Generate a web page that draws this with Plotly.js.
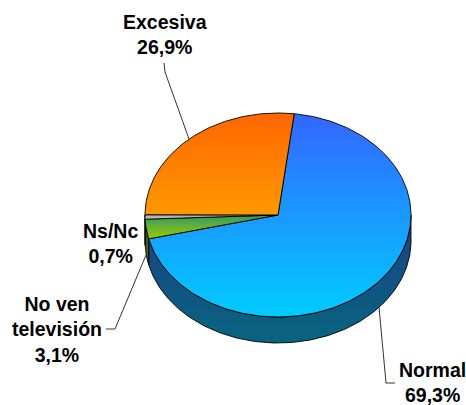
<!DOCTYPE html>
<html><head><meta charset="utf-8">
<script src="https://cdn.plot.ly/plotly-3.0.1.min.js"></script>
<style>html,body{margin:0;padding:0;background:#fff}#c{width:466px;height:405px}</style>
</head><body><div id="c"></div>
<script>
const categories = ["Normal", "No ven televisión", "Ns/Nc", "Excesiva"];
const shares = [69.3, 3.1, 0.7, 26.9];
const labelTexts = ["Normal<br>69,3%", "No ven<br>televisión<br>3,1%", "Ns/Nc<br>0,7%", "Excesiva<br>26,9%"];

// pie geometry, in pixels of the 466x405 frame
const cx = 278, cy = 215, rx = 133, ry = 102, depth = 26, startDeg = 7;
const topColors = [["#3366ff","#00ccff"],["#339966","#99cc00"],["#a6a6a6","#c8c8c8"],["#ff6600","#ff9900"]];
const sideColors = [["#1c3f85","#07657f"],["#2e5a1a","#4d6610"],["#555555","#666666"],["#803300","#804c00"]];
const labelX = [432, 57, 110, 165], labelY = [382, 329, 243, 34];
const leaders = [
  {x:[379,383,386,395], y:[307,350,383,383]},
  {x:[146,115,106], y:[255,329,329]},
  {x:[189,165,164], y:[139,72,63]}
];

const pt = (d, dy) => {
  const a = d * Math.PI / 180;
  return [cx + rx * Math.sin(a), cy - ry * Math.cos(a) + (dy || 0)];
};
const grad = c => ({type:"vertical", colorscale:[[0,c[1]],[1,c[0]]]});
const traces = [];
let from = startDeg;
const spans = shares.map(v => { const s = [from, from + v * 3.6]; from = s[1]; return s; });

// side wall: only the part of each slice that faces the viewer (90..270 degrees)
spans.forEach((s, i) => {
  const a = Math.max(s[0], 90), b = Math.min(s[1], 270);
  if (b <= a) return;
  const xs = [], ys = [];
  for (let d = a; d <= b; d += 1) { const p = pt(d); xs.push(p[0]); ys.push(p[1]); }
  const pe = pt(b); xs.push(pe[0]); ys.push(pe[1]);
  for (let d = b; d >= a; d -= 1) { const p = pt(d, depth); xs.push(p[0]); ys.push(p[1]); }
  const pa = pt(a, depth); xs.push(pa[0]); ys.push(pa[1]);
  xs.push(xs[0]); ys.push(ys[0]);
  traces.push({x:xs, y:ys, mode:"lines", fill:"toself", fillgradient:grad(sideColors[i]),
    line:{color:"#000", width:0.9}, hoverinfo:"skip", showlegend:false});
});

// top face of each slice
spans.forEach((s, i) => {
  const xs = [cx], ys = [cy];
  for (let d = s[0]; d < s[1]; d += 1) { const p = pt(d); xs.push(p[0]); ys.push(p[1]); }
  const pe = pt(s[1]); xs.push(pe[0], cx); ys.push(pe[1], cy);
  traces.push({x:xs, y:ys, mode:"lines", fill:"toself", fillgradient:grad(topColors[i]),
    line:{color:"#000", width:0.9}, name:categories[i], text:labelTexts[i], hoverinfo:"text", showlegend:false});
});

leaders.forEach(l => traces.push({x:l.x, y:l.y, mode:"lines", line:{color:"#000", width:0.8}, hoverinfo:"skip", showlegend:false}));

const annotations = labelTexts.map((t, i) => ({
  text:t, x:labelX[i], y:labelY[i], xref:"x", yref:"y", showarrow:false, align:"center",
  xanchor:"center", yanchor:"middle",
  font:{family:"Liberation Sans, Arial, sans-serif", size:19.5, color:"#000", weight:700}
}));

Plotly.newPlot("c", traces, {
  width:466, height:405, margin:{l:0,r:0,t:0,b:0},
  paper_bgcolor:"#fff", plot_bgcolor:"#fff", showlegend:false,
  xaxis:{range:[0,466], visible:false, fixedrange:true},
  yaxis:{range:[405,0], visible:false, fixedrange:true},
  annotations:annotations
}, {displayModeBar:false, responsive:false});
</script></body></html>
